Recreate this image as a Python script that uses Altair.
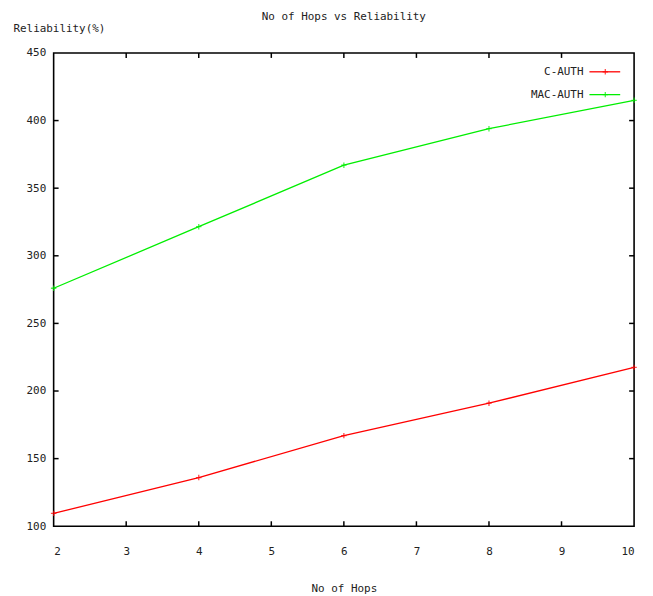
import altair as alt
import pandas as pd

hops = [2, 4, 6, 8, 10]
c_auth = [109.5, 136, 167, 191, 217.5]
mac_auth = [276, 321.5, 367, 394, 415]
series_names = ["C-AUTH", "MAC-AUTH"]
series_colors = ["#ff0000", "#00ee00"]
x_ticks = [2, 3, 4, 5, 6, 7, 8, 9, 10]
y_ticks = [100, 150, 200, 250, 300, 350, 400, 450]

FONT = "DejaVu Sans Mono"
FS = 11
W, H = 585, 477

rows = []
for name, vals in zip(series_names, [c_auth, mac_auth]):
    for h, v in zip(hops, vals):
        rows.append({"hops": h, "rel": v, "series": name})
df = pd.DataFrame(rows)

xs = alt.Scale(domain=[2, 10], nice=False)
ys = alt.Scale(domain=[100, 450], nice=False)
cs = alt.Scale(domain=series_names, range=series_colors)

x_enc = alt.X("hops:Q", scale=xs, axis=alt.Axis(
    values=x_ticks, format="d", title="No of Hops", grid=False, domain=False, ticks=False,
    labelPadding=19, titlePadding=27, labelFont=FONT, titleFont=FONT,
    labelFontSize=FS, titleFontSize=FS, titleFontWeight="normal",
    labelColor="#222", titleColor="#222"))
y_enc = alt.Y("rel:Q", scale=ys, axis=alt.Axis(
    values=y_ticks, format="d", title="Reliability(%)", grid=False, domain=False, ticks=False,
    labelPadding=8, labelFont=FONT, titleFont=FONT, labelFontSize=FS,
    titleFontSize=FS, titleFontWeight="normal", titleAngle=0, titleAlign="left",
    titleBaseline="middle", titleX=-41, titleY=-25,
    labelColor="#222", titleColor="#222"))

lines = alt.Chart(df).mark_line(strokeWidth=1.3).encode(
    x=x_enc, y=y_enc,
    color=alt.Color("series:N", scale=cs, legend=None),
    detail="series:N")

cross = "M-1,0H1M0,-1V1"
points = alt.Chart(df).mark_point(shape=cross, filled=False, size=30, strokeWidth=1.3).encode(
    x=alt.X("hops:Q", scale=xs), y=alt.Y("rel:Q", scale=ys),
    color=alt.Color("series:N", scale=cs, legend=None))

xt = pd.DataFrame({"t": x_ticks[1:-1]})
yt = pd.DataFrame({"t": y_ticks[1:-1]})
tick_style = dict(color="black", strokeWidth=1.5)
xb = alt.Chart(xt).mark_rule(**tick_style).encode(
    x=alt.X("t:Q", scale=xs), y=alt.value(H), y2=alt.value(H - 5))
xtop = alt.Chart(xt).mark_rule(**tick_style).encode(
    x=alt.X("t:Q", scale=xs), y=alt.value(0), y2=alt.value(5))
yl = alt.Chart(yt).mark_rule(**tick_style).encode(
    y=alt.Y("t:Q", scale=ys), x=alt.value(0), x2=alt.value(5))
yr = alt.Chart(yt).mark_rule(**tick_style).encode(
    y=alt.Y("t:Q", scale=ys), x=alt.value(W), x2=alt.value(W - 5))

# legend (label left, sample right, gnuplot style)
leg_layers = []
for i, (name, col) in enumerate(zip(series_names, series_colors)):
    ly = 19 + i * 23
    ld = pd.DataFrame({"series": [name]})
    leg_layers.append(alt.Chart(ld).mark_text(
        align="right", baseline="middle", font=FONT, fontSize=FS, color="#222").encode(
        text="series:N", x=alt.value(534), y=alt.value(ly)))
    leg_layers.append(alt.Chart(ld).mark_rule(color=col, strokeWidth=1.3).encode(
        x=alt.value(540), x2=alt.value(571), y=alt.value(ly)))
    leg_layers.append(alt.Chart(ld).mark_point(
        shape=cross, filled=False, size=30, strokeWidth=1.3, color=col).encode(
        x=alt.value(556), y=alt.value(ly)))

chart = alt.layer(lines, points, xb, xtop, yl, yr, *leg_layers).properties(
    width=W, height=H,
    title=alt.TitleParams("No of Hops vs Reliability", font=FONT, fontSize=FS,
                          fontWeight="normal", color="#222", offset=0),
    padding={"left": 5, "top": 1, "right": 5, "bottom": 0},
).configure(background="white").configure_view(stroke="black", strokeWidth=1.6)

chart.save("out.html", embed_options={"renderer": "svg", "actions": False})
